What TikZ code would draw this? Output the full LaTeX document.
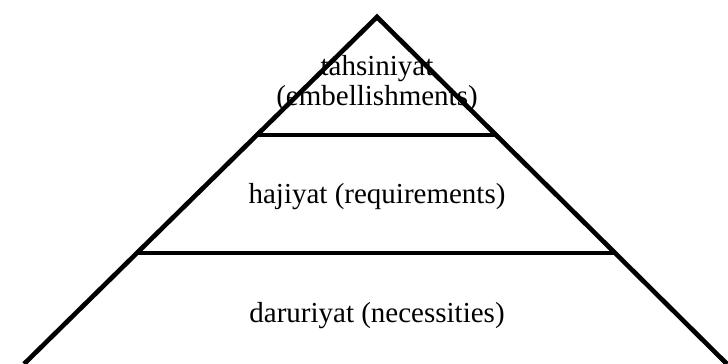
\documentclass[tikz,border=0pt]{standalone}
\usepackage{fontspec}
\setmainfont{Liberation Serif}
\usetikzlibrary{calc}
\tikzset{level/.style={font=\fontsize{21.75}{22.5}\selectfont, align=center}}

\begin{document}
\begin{tikzpicture}[x=0.75pt,y=0.75pt,line width=3.5pt]
\useasboundingbox (0,0) rectangle (728,364);
\node[level] (tahsiniyat) at (377,280) {tahsiniyat\\(embellishments)};
\node[level] (hajiyat) at (377,167) {hajiyat (requirements)};
\node[level] (daruriyat) at (377,48) {daruriyat (necessities)};
\coordinate (apex) at (377,347);
\coordinate (bl) at (24,0);
\coordinate (br) at (727,0);
\coordinate (tl) at ($(apex)!0.34!(bl)$);
\coordinate (tr) at ($(apex)!0.34!(br)$);
\coordinate (ml) at ($(apex)!0.68!(bl)$);
\coordinate (mr) at ($(apex)!0.68!(br)$);
\draw (bl)--(apex)--(br);
\draw (tl)--(tr);
\draw (ml)--(mr);
\end{tikzpicture}
\end{document}
